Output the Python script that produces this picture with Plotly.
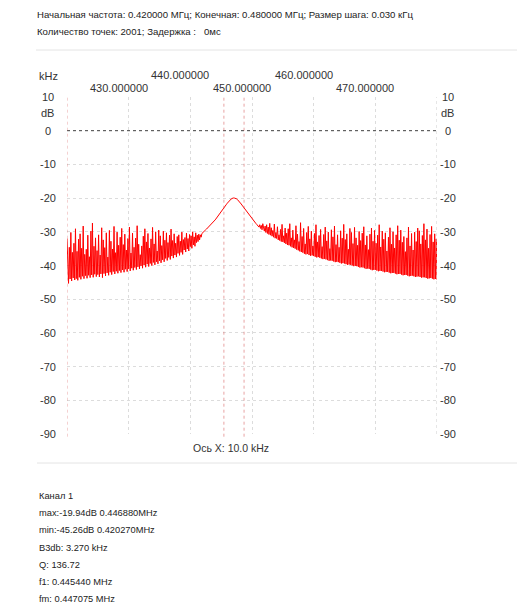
import plotly.graph_objects as go

# sweep settings (kHz)
freq_start = 420.0
freq_step = 0.125

# measured level, dB, one row per 1 kHz (8 points of 0.125 kHz)
level_db = [
    -32.0, -41.5, -45.3, -34.6, -44.0, -30.2, -44.6, -36.1,   # 420
    -43.7, -33.4, -44.3, -29.1, -43.9, -35.8, -44.4, -32.2,
    -43.5, -30.6, -44.1, -34.9, -43.2, -28.3, -43.9, -36.7,
    -43.0, -35.2, -43.8, -31.0, -42.9, -37.4, -43.6, -29.8,
    -42.8, -27.4, -43.5, -34.3, -42.6, -31.8, -43.3, -35.6,
    -42.7, -30.9, -43.4, -36.9, -42.5, -28.8, -43.6, -32.4,   # 425
    -42.4, -34.7, -43.1, -30.3, -42.2, -37.5, -42.9, -29.6,
    -42.0, -32.8, -42.7, -35.1, -41.8, -28.4, -42.5, -36.2,
    -41.7, -30.1, -42.3, -34.0, -41.5, -31.6, -42.1, -29.0,
    -41.3, -33.8, -42.0, -30.7, -41.1, -35.4, -41.8, -32.0,
    -41.0, -28.6, -41.6, -36.3, -40.8, -30.4, -41.4, -34.6,   # 430
    -40.6, -31.9, -41.2, -28.2, -40.4, -33.7, -41.0, -36.8,
    -40.1, -34.2, -40.8, -31.3, -39.9, -29.1, -40.5, -33.0,
    -39.6, -30.5, -40.3, -34.8, -39.4, -32.1, -40.0, -28.7,
    -39.1, -33.6, -39.8, -30.0, -38.9, -35.7, -39.5, -29.5,
    -38.6, -31.2, -39.2, -34.1, -38.3, -29.8, -38.9, -32.5,   # 435
    -37.9, -30.3, -38.5, -33.2, -37.6, -31.0, -38.2, -29.2,
    -37.2, -32.6, -37.8, -30.6, -36.9, -33.4, -37.5, -31.4,
    -36.4, -30.9, -37.0, -32.8, -36.1, -30.1, -36.7, -32.3,
    -35.4, -31.7, -36.0, -30.4, -35.1, -32.0, -35.7, -30.8,
    -34.4, -31.2, -34.9, -30.0, -33.9, -31.5, -34.3, -30.3,   # 440
    -33.2, -31.0, -32.9, -30.7, -32.4, -30.9, -31.6, -30.5,
    -30.21, -30.01, -29.81, -29.61, -29.40, -29.19, -28.97, -28.75,
    -28.52, -28.29, -28.05, -27.81, -27.56, -27.31, -27.05, -26.78,
    -26.51, -26.23, -25.94, -25.65, -25.36, -25.05, -24.74, -24.43,
    -24.11, -23.78, -23.45, -23.12, -22.79, -22.46, -22.13, -21.81,   # 445
    -21.50, -21.20, -20.93, -20.67, -20.45, -20.26, -20.11, -19.94,
    -19.96, -19.98, -19.99, -20.08, -20.22, -20.41, -20.62, -20.87,
    -21.15, -21.44, -21.75, -22.07, -22.39, -22.73, -23.06, -23.39,
    -23.72, -24.04, -24.37, -24.68, -24.99, -25.30, -25.59, -25.89,
    -26.17, -26.45, -26.73, -26.99, -27.25, -27.51, -27.76, -28.00,   # 450
    -28.24, -28.6, -27.9, -29.0, -28.1, -29.4, -27.6, -29.7,
    -29.8, -28.3, -30.2, -27.9, -30.5, -28.6, -30.8, -27.5,
    -31.0, -28.8, -31.3, -29.6, -31.6, -27.7, -31.9, -30.2,
    -32.0, -28.5, -32.4, -30.9, -32.6, -29.3, -32.9, -27.8,
    -33.0, -31.2, -33.3, -28.9, -33.6, -30.4, -33.9, -29.1,   # 455
    -34.0, -27.6, -34.3, -31.8, -34.6, -29.5, -34.8, -32.4,
    -35.0, -28.2, -35.3, -30.7, -35.5, -32.9, -35.8, -27.3,
    -36.0, -31.4, -36.2, -29.0, -36.5, -33.6, -36.7, -30.2,
    -36.6, -28.4, -36.9, -32.1, -37.1, -29.8, -37.0, -34.2,
    -37.2, -30.5, -37.4, -27.9, -37.6, -33.0, -37.5, -31.1,   # 460
    -37.7, -29.3, -37.9, -34.4, -38.1, -30.8, -38.0, -28.6,
    -38.2, -32.7, -38.4, -30.1, -38.6, -35.0, -38.5, -29.4,
    -38.6, -31.5, -38.8, -28.3, -39.0, -33.8, -38.9, -30.9,
    -39.0, -34.6, -39.2, -29.7, -39.4, -31.9, -39.3, -27.8,
    -39.4, -32.3, -39.6, -30.6, -39.8, -35.2, -39.7, -29.0,   # 465
    -39.8, -30.2, -40.0, -33.5, -40.2, -28.7, -40.1, -31.8,
    -40.2, -34.0, -40.4, -29.9, -40.6, -32.6, -40.5, -30.4,
    -40.6, -28.5, -40.8, -33.9, -41.0, -31.2, -40.9, -35.3,
    -41.0, -30.7, -41.2, -28.9, -41.4, -32.8, -41.3, -29.6,
    -41.3, -33.4, -41.5, -31.0, -41.7, -27.9, -41.6, -34.5,   # 470
    -41.6, -29.8, -41.8, -32.2, -42.0, -30.3, -41.9, -35.7,
    -41.9, -31.6, -42.1, -28.8, -42.3, -33.7, -42.2, -30.0,
    -42.2, -34.8, -42.4, -30.9, -42.6, -28.2, -42.5, -32.5,
    -42.5, -29.5, -42.7, -33.1, -42.9, -31.4, -42.8, -35.9,
    -42.8, -31.8, -43.0, -28.6, -43.2, -34.2, -43.1, -30.5,   # 475
    -43.0, -35.4, -43.2, -30.1, -43.4, -32.9, -43.3, -28.9,
    -43.2, -29.7, -43.4, -33.6, -43.6, -31.1, -43.5, -27.6,
    -43.5, -32.4, -43.7, -29.2, -43.9, -34.9, -43.8, -30.8,
    -43.7, -28.4, -43.9, -33.0, -44.1, -30.6, -44.0, -32.1,
    -44.2,                                                    # 480
]
freq_khz = [freq_start + freq_step * i for i in range(len(level_db))]

# -3 dB markers
f1_khz = 445.44
f2_khz = 448.71

x_ticks_low = [430, 450, 470]
x_ticks_high = [440, 460]
y_ticks = [10, 0, -10, -20, -30, -40, -50, -60, -70, -80, -90]

header = [
    "Начальная частота: 0.420000 МГц; Конечная: 0.480000 МГц; Размер шага: 0.030 кГц",
    "Количество точек: 2001; Задержка :   0мс",
]
info = [
    "Канал 1",
    "max:-19.94dB 0.446880MHz",
    "min:-45.26dB 0.420270MHz",
    "B3db: 3.270 kHz",
    "Q: 136.72",
    "f1: 0.445440 MHz",
    "fm: 0.447075 MHz",
]

# page has an 8px body margin, so the figure is a bit smaller than the window
W, H = 517, 602
L, R, T, B = 59, 88, 89, 176


def px(p):
    # page pixel -> paper x
    return (p - 67) / 370


def py(p):
    # page pixel -> paper y
    return (434 - p) / 337


font = "Liberation Sans"
text_col = "#333333"

fig = go.Figure()
fig.add_trace(go.Scatter(
    x=freq_khz, y=level_db, mode="lines",
    line=dict(color="#ff0000", width=1),
    hoverinfo="skip", showlegend=False,
))

shapes = []
# 0 dB line
shapes.append(dict(type="line", xref="paper", yref="y", x0=0, x1=1, y0=0, y1=0,
                   line=dict(color="#444444", width=1, dash="dot")))
# right edge
shapes.append(dict(type="line", xref="x", yref="paper", x0=480, x1=480, y0=0, y1=1,
                   line=dict(color="#cccccc", width=1, dash="dot")))
# red markers
for xv in [freq_start, f1_khz, f2_khz]:
    shapes.append(dict(type="line", xref="x", yref="paper", x0=xv, x1=xv, y0=-0.008, y1=1,
                       line=dict(color="rgba(215,90,90,0.55)", width=1, dash="dot")))
# separators
shapes.append(dict(type="line", xref="paper", yref="paper", x0=px(36), x1=px(525),
                   y0=py(50), y1=py(50), line=dict(color="#e4e4e4", width=1)))
shapes.append(dict(type="line", xref="paper", yref="paper", x0=px(37), x1=px(525),
                   y0=py(463), y1=py(463), line=dict(color="#e4e4e4", width=1)))

ann = []
for i, t in enumerate(header):
    ann.append(dict(text=t, xref="paper", yref="paper", x=px(35), y=py(14 + 18 * i),
                    xanchor="left", yanchor="middle", showarrow=False,
                    font=dict(family=font, size=9.6, color="#222222")))
for i, t in enumerate(info):
    ann.append(dict(text=t, xref="paper", yref="paper", x=px(37), y=py(496 + 17.2 * i),
                    xanchor="left", yanchor="middle", showarrow=False,
                    font=dict(family=font, size=9.3, color="#222222")))

axis_font = dict(family=font, size=11, color=text_col)
for v in x_ticks_low:
    ann.append(dict(text=f"{v:.6f}", xref="x", yref="paper", x=v, xshift=-10, y=py(88),
                    xanchor="center", yanchor="middle", showarrow=False, font=axis_font))
for v in x_ticks_high:
    ann.append(dict(text=f"{v:.6f}", xref="x", yref="paper", x=v, xshift=-10, y=py(75),
                    xanchor="center", yanchor="middle", showarrow=False, font=axis_font))
ann.append(dict(text="kHz", xref="paper", yref="paper", x=px(37), y=py(76),
                xanchor="left", yanchor="middle", showarrow=False, font=axis_font))
for v in y_ticks:
    for xp in [px(48), px(448)]:
        ann.append(dict(text=str(v), xref="paper", yref="y", x=xp, y=v,
                        xanchor="center", yanchor="middle", showarrow=False, font=axis_font))
for xp in [px(47), px(447)]:
    ann.append(dict(text="dB", xref="paper", yref="paper", x=xp, y=py(113),
                    xanchor="center", yanchor="middle", showarrow=False, font=axis_font))
ann.append(dict(text="Ось X: 10.0 kHz", xref="paper", yref="paper", x=px(231), y=py(448),
                xanchor="center", yanchor="middle", showarrow=False,
                font=dict(family=font, size=10.5, color=text_col)))

fig.update_layout(
    width=W, height=H,
    margin=dict(l=L, r=R, t=T, b=B),
    paper_bgcolor="white", plot_bgcolor="white",
    shapes=shapes, annotations=ann,
    xaxis=dict(range=[420, 480], dtick=10, tick0=420, showticklabels=False,
               showgrid=True, gridcolor="#dcdcdc", griddash="dot", gridwidth=1,
               zeroline=False, showline=False, ticks=""),
    yaxis=dict(range=[-90, 10], dtick=10, tick0=0, showticklabels=False,
               showgrid=True, gridcolor="#dcdcdc", griddash="dot", gridwidth=1,
               zeroline=False, showline=False, ticks=""),
)
fig.write_html("out.html")
